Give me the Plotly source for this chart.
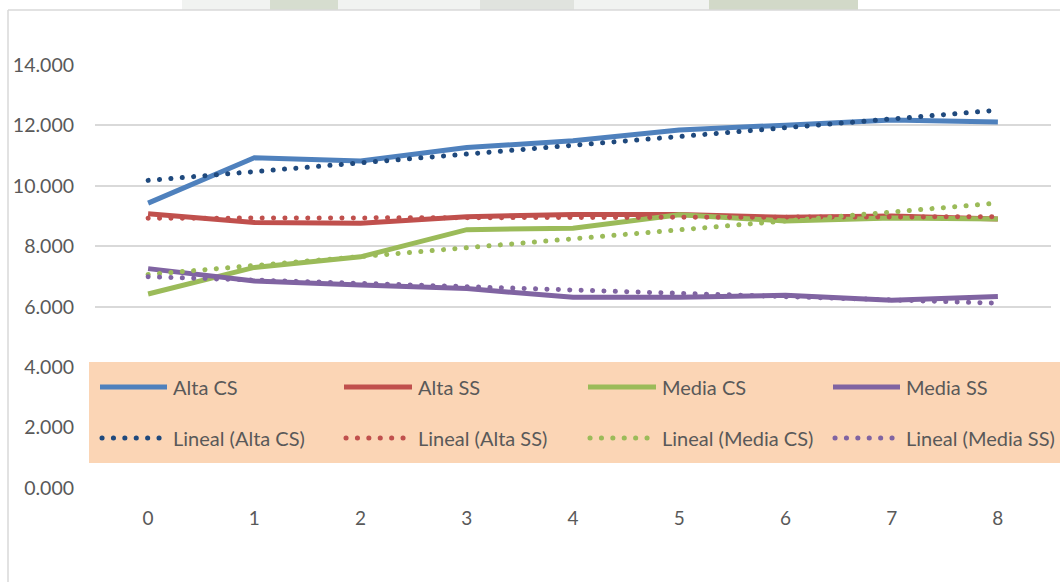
import numpy as np
import plotly.graph_objects as go

# Categories (x axis)
periods = [0, 1, 2, 3, 4, 5, 6, 7, 8]

# Series values
alta_cs = [9.43, 10.93, 10.82, 11.27, 11.49, 11.85, 12.01, 12.18, 12.11]
alta_ss = [9.08, 8.79, 8.76, 8.98, 9.05, 9.05, 8.96, 9.00, 8.90]
media_cs = [6.42, 7.30, 7.65, 8.55, 8.60, 9.04, 8.84, 8.94, 8.90]
media_ss = [7.26, 6.85, 6.72, 6.60, 6.31, 6.31, 6.38, 6.21, 6.34]

series_names = ["Alta CS", "Alta SS", "Media CS", "Media SS"]
series_values = [alta_cs, alta_ss, media_cs, media_ss]
line_colors = ["#4F81BD", "#C0504D", "#9BBB59", "#8064A2"]
trend_colors = ["#1F497D", "#C0504D", "#9BBB59", "#8064A2"]

y_ticks = [0, 2, 4, 6, 8, 10, 12, 14]

W, H = 1060, 582
ML, MR, MT, MB = 95, 9, 65, 94
PW, PH = W - ML - MR, H - MT - MB

def px_x(p):
    return (p - ML) / PW

def px_y(p):
    return (H - MB - p) / PH

TEXT = "#595959"
FONT = "Lato"

fig = go.Figure()

for name, vals, col in zip(series_names, series_values, line_colors):
    fig.add_trace(go.Scatter(
        x=periods, y=vals, mode="lines", name=name,
        line=dict(color=col, width=5), showlegend=False,
    ))

# Linear trend lines (least-squares fit of each series)
xs = np.array(periods, dtype=float)
for name, vals, col in zip(series_names, series_values, trend_colors):
    slope, intercept = np.polyfit(xs, np.array(vals), 1)
    ends = [xs[0], xs[-1]]
    fig.add_trace(go.Scatter(
        x=ends, y=[intercept + slope * e for e in ends], mode="lines",
        name=f"Lineal ({name})",
        line=dict(color=col, width=5, dash="2px,9.4px"), showlegend=False,
    ))

shapes = []
annotations = []

# faint header strip above the chart frame
for x0, x1, c in [(182, 858, "#F1F3F1"), (270, 338, "#D6DDCF"),
                  (480, 574, "#E0E3DE"), (709, 858, "#D2D9C8")]:
    shapes.append(dict(type="rect", xref="paper", yref="paper",
                       x0=px_x(x0), x1=px_x(x1), y0=px_y(10), y1=px_y(0),
                       fillcolor=c, line=dict(width=0), layer="below"))

# chart frame
shapes.append(dict(type="line", xref="paper", yref="paper",
                   x0=px_x(8), x1=px_x(1060), y0=px_y(10), y1=px_y(10),
                   line=dict(color="#D9D9D9", width=1.5)))
shapes.append(dict(type="line", xref="paper", yref="paper",
                   x0=px_x(8), x1=px_x(8), y0=px_y(10), y1=px_y(582),
                   line=dict(color="#D9D9D9", width=1.5)))

# legend box
shapes.append(dict(type="rect", xref="paper", yref="paper",
                   x0=px_x(89), x1=px_x(1062), y0=px_y(463), y1=px_y(362),
                   fillcolor="#FBD5B5", line=dict(width=0), layer="above"))

col_lines = [(100, 167), (344, 412), (588, 656), (833, 900)]
row_solid, row_trend = 387, 438
for (lx0, lx1), name, lc, tc in zip(col_lines, series_names, line_colors, trend_colors):
    shapes.append(dict(type="line", xref="paper", yref="paper",
                       x0=px_x(lx0), x1=px_x(lx1), y0=px_y(row_solid), y1=px_y(row_solid),
                       line=dict(color=lc, width=5), layer="above"))
    shapes.append(dict(type="line", xref="paper", yref="paper",
                       x0=px_x(lx0 + 2), x1=px_x(lx1 - 4), y0=px_y(row_trend), y1=px_y(row_trend),
                       line=dict(color=tc, width=5, dash="2px,9.4px"), layer="above"))
    annotations.append(dict(xref="paper", yref="paper", x=px_x(lx1 + 4), y=px_y(row_solid),
                            text=name, showarrow=False, xanchor="left", yanchor="middle",
                            font=dict(family=FONT, size=20, color=TEXT)))
    annotations.append(dict(xref="paper", yref="paper", x=px_x(lx1 + 4), y=px_y(row_trend),
                            text=f"Lineal ({name})", showarrow=False, xanchor="left",
                            yanchor="middle", font=dict(family=FONT, size=20, color=TEXT)))

fig.update_layout(
    width=W, height=H,
    margin=dict(l=ML, r=MR, t=MT, b=MB, pad=0),
    paper_bgcolor="white", plot_bgcolor="white",
    shapes=shapes, annotations=annotations,
    showlegend=False,
    xaxis=dict(
        range=[-0.5, 8.5], tickvals=periods, ticktext=[str(p) for p in periods],
        showgrid=False, zeroline=False, showline=False, ticks="",
        ticklabelstandoff=17,
        tickfont=dict(family=FONT, size=19, color=TEXT),
    ),
    yaxis=dict(
        range=[0, 14], tickvals=y_ticks, tickformat=".3f",
        showgrid=True, gridcolor="#D9D9D9", gridwidth=1.5,
        zeroline=False, showline=False, ticks="",
        ticklabelstandoff=20,
        tickfont=dict(family=FONT, size=19.5, color=TEXT),
    ),
)

# round the dash ends so dotted trend lines render as round dots
post = """
var gd = document.getElementsByClassName('plotly-graph-div')[0];
function roundDots(){
  document.querySelectorAll('path').forEach(function(p){
    var d = p.style.strokeDasharray;
    if (d && d !== 'none') { p.style.strokeLinecap = 'round'; p.style.strokeDasharray = '0.1px, 11.3px'; }
  });
}
roundDots();
if (gd && gd.on) { gd.on('plotly_afterplot', roundDots); }
"""

fig.write_html("out.html", post_script=post)
